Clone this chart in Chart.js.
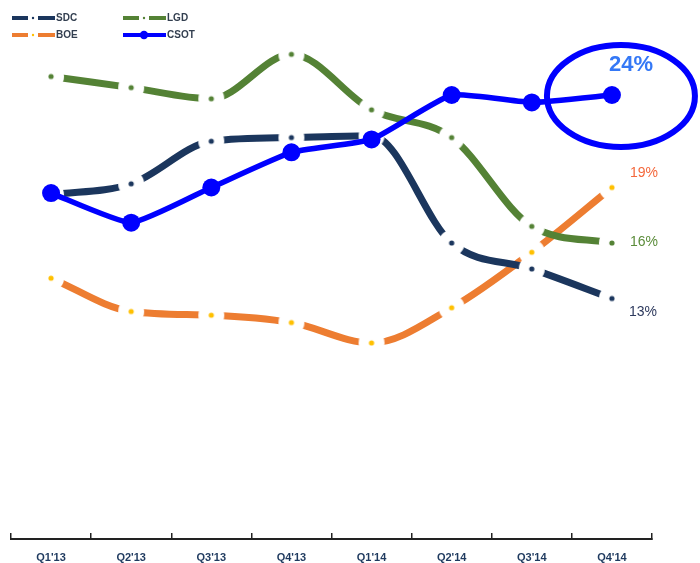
<!DOCTYPE html>
<html>
<head>
<meta charset="utf-8">
<script src="https://cdn.jsdelivr.net/npm/chart.js@4"></script>
<style>
  html, body { margin: 0; padding: 0; background: #fff; }
  #wrap { width: 700px; height: 563px; }
</style>
</head>
<body>
<div id="wrap"><canvas id="shareChart" width="700" height="563"></canvas></div>
<script>
// quarters on the x axis
const quarters = ["Q1'13", "Q2'13", "Q3'13", "Q4'13", "Q1'14", "Q2'14", "Q3'14", "Q4'14"];

// share per maker (%)
const sdcShare  = [18.6, 19.2, 21.5, 21.7, 21.8, 16.0, 14.6, 13.0];
const lgdShare  = [25.0, 24.4, 23.8, 26.2, 23.2, 21.7, 16.9, 16.0];
const boeShare  = [14.1, 12.3, 12.1, 11.7, 10.6, 12.5, 15.5, 19.0];
const csotShare = [18.7, 17.1, 19.0, 20.9, 21.6, 24.0, 23.6, 24.0];

const NARROW = "'Liberation Sans Narrow', 'Liberation Sans', Arial, sans-serif";
const SANS = "'Liberation Sans', Arial, sans-serif";

// dot with a white ring round it, so the dashed line breaks at every point
function ringDot(color) {
  const c = document.createElement('canvas');
  c.width = 28; c.height = 28;
  const g = c.getContext('2d');
  g.fillStyle = '#fff';
  g.beginPath(); g.arc(14, 14, 13, 0, Math.PI * 2); g.fill();
  g.fillStyle = color;
  g.beginPath(); g.arc(14, 14, 2.6, 0, Math.PI * 2); g.fill();
  return c;
}

function dashedSeries(label, data, color, dotColor, endLabel) {
  return {
    label: label,
    data: data,
    borderColor: color,
    borderWidth: 7,
    borderCapStyle: 'butt',
    cubicInterpolationMode: 'monotone',
    pointStyle: ringDot(dotColor),
    pointRadius: 3,
    legendDot: dotColor,
    endLabel: endLabel
  };
}

// legend in two columns plus the end-of-line labels and the ring round CSOT
const decorations = {
  id: 'decorations',
  afterDatasetsDraw(chart) {
    const ctx = chart.ctx;
    ctx.save();
    chart.data.datasets.forEach((ds, i) => {
      const pts = chart.getDatasetMeta(i).data;
      const last = pts[pts.length - 1];
      const val = ds.data[ds.data.length - 1];
      const lab = ds.endLabel;
      if (lab.ring) {
        ctx.strokeStyle = ds.borderColor;
        ctx.lineWidth = 6;
        ctx.beginPath();
        ctx.ellipse(last.x + 9, last.y + 1, 74, 51, 0, 0, Math.PI * 2);
        ctx.stroke();
      }
      ctx.fillStyle = lab.color;
      ctx.font = lab.font;
      ctx.textAlign = lab.align;
      ctx.textBaseline = 'middle';
      ctx.fillText(Math.round(val) + '%', last.x + lab.dx, last.y + lab.dy);
    });

    // legend
    const slots = { SDC: [12, 18], LGD: [123, 18], BOE: [12, 35], CSOT: [123, 35] };
    chart.data.datasets.forEach(ds => {
      const [x, y] = slots[ds.label];
      ctx.strokeStyle = ds.borderColor;
      ctx.lineWidth = 4;
      ctx.lineCap = 'butt';
      if (ds.label === 'CSOT') {
        ctx.beginPath(); ctx.moveTo(x, y); ctx.lineTo(x + 43, y); ctx.stroke();
        ctx.fillStyle = ds.borderColor;
        ctx.beginPath(); ctx.arc(x + 21, y, 4.2, 0, Math.PI * 2); ctx.fill();
      } else {
        ctx.beginPath(); ctx.moveTo(x, y); ctx.lineTo(x + 16, y);
        ctx.moveTo(x + 26, y); ctx.lineTo(x + 43, y); ctx.stroke();
        ctx.fillStyle = ds.legendDot;
        ctx.beginPath(); ctx.arc(x + 21, y, 1.2, 0, Math.PI * 2); ctx.fill();
      }
      ctx.fillStyle = '#333f50';
      ctx.font = 'bold 10px ' + NARROW;
      ctx.textAlign = 'left';
      ctx.textBaseline = 'middle';
      ctx.fillText(ds.label, x + 44, y + 0.5);
    });
    ctx.restore();
  }
};

const ctx = document.getElementById('shareChart').getContext('2d');
const shareChart = new Chart(ctx, {
  type: 'line',
  data: {
    labels: quarters,
    datasets: [
      {
        label: 'CSOT',
        data: csotShare,
        borderColor: '#0000ff',
        backgroundColor: '#0000ff',
        borderWidth: 5.5,
        tension: 0.15,
        pointRadius: 9,
        pointBorderWidth: 0,
        pointBackgroundColor: '#0000ff',
        endLabel: { color: '#3478f6', font: 'bold 22px ' + SANS, align: 'center', dx: 19, dy: -30, ring: true }
      },
      dashedSeries('SDC', sdcShare, '#1b365d', '#1b365d',
        { color: '#2e3a5e', font: '14px ' + SANS, align: 'left', dx: 17, dy: 14 }),
      dashedSeries('LGD', lgdShare, '#548235', '#548235',
        { color: '#5b8c3a', font: '14px ' + SANS, align: 'left', dx: 18, dy: -1 }),
      dashedSeries('BOE', boeShare, '#ed7d31', '#ffc000',
        { color: '#f4683c', font: '14px ' + SANS, align: 'left', dx: 18, dy: -14 })
    ]
  },
  options: {
    responsive: false,
    animation: false,
    layout: { padding: { left: 9, right: 48, top: 21, bottom: 0 } },
    plugins: {
      legend: { display: false },
      tooltip: { enabled: false }
    },
    scales: {
      x: {
        offset: true,
        grid: { offset: true, drawOnChartArea: false, tickLength: -6, color: '#222', lineWidth: 1.5 },
        border: { display: true, color: '#222', width: 2 },
        ticks: {
          padding: 18,
          color: '#1f3a5f',
          font: { family: NARROW, size: 11, weight: 'bold' }
        },
        afterFit(scale) { scale.height = 24; }
      },
      y: {
        display: false,
        min: 0,
        max: 28
      }
    }
  },
  plugins: [decorations]
});
</script>
</body>
</html>
